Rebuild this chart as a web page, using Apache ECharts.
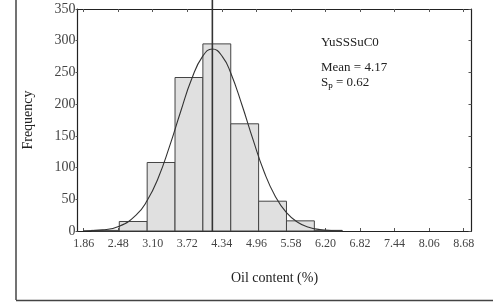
<!DOCTYPE html>
<html><head><meta charset="utf-8">
<script src="https://cdn.jsdelivr.net/npm/echarts@6/dist/echarts.min.js"></script>
<style>html,body{margin:0;padding:0;background:#fff}#c{width:493px;height:302px}</style>
</head><body><div id="c"></div>
<script>
// Histogram bins (oil content %) and frequencies
const binStarts = [2.0, 2.5, 3.0, 3.5, 4.0, 4.5, 5.0, 5.5, 6.0];
const binEnds   = [2.5, 3.0, 3.5, 4.0, 4.5, 5.0, 5.5, 6.0, 6.5];
const counts    = [1, 15, 108, 242, 295, 169, 47, 16, 1];
// Fitted normal curve
const curveX = [1.86, 2.2, 2.5, 2.8, 3.0, 3.2, 3.4, 3.6, 3.8, 4.0, 4.17, 4.35, 4.5, 4.7, 4.9, 5.1, 5.3, 5.5, 5.7, 5.9, 6.1, 6.3, 6.5];
const curveY = [0.3, 1.8, 7.6, 25, 48, 84, 133, 188, 240, 276, 287, 275, 249, 199, 144, 93, 54.5, 28.8, 13.7, 5.9, 2.3, 0.8, 0.25];
const meanValue = 4.17;
const meanLineTop = 365;
const xTickLabels = ['1.86','2.48','3.10','3.72','4.34','4.96','5.58','6.20','6.82','7.44','8.06','8.68'];
const yTicks = [0, 50, 100, 150, 200, 250, 300, 350];
const sampleName = 'YuSSSuC0';
const meanText = 'Mean = 4.17';
const spText = '0.62';

const xTickValues = xTickLabels.map(Number);
const font = 'Liberation Serif';
const txt = '#444';
const chart = echarts.init(document.getElementById('c'));
const barData = counts.map((c, i) => [binStarts[i], binEnds[i], c]);
chart.setOption({
  animation: false,
  backgroundColor: '#fff',
  grid: {left: 77.5, right: 21.5, top: 9, bottom: 71},
  xAxis: [{
    type: 'value', min: 1.75, max: 8.82, position: 'bottom',
    axisLine: {show: true, onZero: false, lineStyle: {color: '#222', width: 1.2}},
    axisTick: {show: true, inside: true, length: 3, customValues: xTickValues, lineStyle: {color: '#555'}},
    axisLabel: {customValues: xTickValues, formatter: v => v.toFixed(2), color: txt, fontFamily: font, fontSize: 12, margin: 7},
    splitLine: {show: false},
    name: 'Oil content (%)', nameLocation: 'middle', nameGap: 40,
    nameTextStyle: {color: '#222', fontFamily: font, fontSize: 14}
  }, {
    type: 'value', min: 1.75, max: 8.82, position: 'top',
    axisLine: {show: true, onZero: false, lineStyle: {color: '#222', width: 1.2}},
    axisTick: {show: true, inside: true, length: 3, customValues: xTickValues, lineStyle: {color: '#555'}},
    axisLabel: {show: false}, splitLine: {show: false}
  }],
  yAxis: [{
    type: 'value', min: 0, max: 350, interval: 50, position: 'left',
    axisLine: {show: true, onZero: false, lineStyle: {color: '#222', width: 1.2}},
    axisTick: {show: true, length: 2, lineStyle: {color: '#555'}},
    axisLabel: {color: txt, fontFamily: font, fontSize: 14, margin: 2},
    splitLine: {show: false},
    name: 'Frequency', nameLocation: 'middle', nameGap: 42, nameRotate: 90,
    nameTextStyle: {color: '#222', fontFamily: font, fontSize: 14}
  }, {
    type: 'value', min: 0, max: 350, interval: 50, position: 'right',
    axisLine: {show: true, onZero: false, lineStyle: {color: '#222', width: 1.2}},
    axisTick: {show: true, inside: true, length: 3, lineStyle: {color: '#555'}},
    axisLabel: {show: false}, splitLine: {show: false}
  }],
  series: [{
    type: 'custom',
    data: barData,
    renderItem: (params, api) => {
      const p0 = api.coord([api.value(0), api.value(2)]);
      const p1 = api.coord([api.value(1), 0]);
      return {type: 'rect', shape: {x: p0[0], y: p0[1], width: p1[0] - p0[0], height: p1[1] - p0[1]},
        style: {fill: '#e0e0e0', stroke: '#444', lineWidth: 1}};
    },
    encode: {x: [0, 1], y: 2}
  }, {
    type: 'line', smooth: true, symbol: 'none',
    data: curveX.map((x, i) => [x, curveY[i]]),
    lineStyle: {color: '#333', width: 1.1}, z: 3
  }, {
    type: 'line', symbol: 'none', clip: false,
    data: [[meanValue, 0], [meanValue, meanLineTop]],
    lineStyle: {color: '#333', width: 1.6}, z: 4
  }],
  graphic: [
    {type: 'line', shape: {x1: 16, y1: 0, x2: 16, y2: 300}, style: {stroke: '#444', lineWidth: 1.5}},
    {type: 'line', shape: {x1: 16, y1: 300.5, x2: 493, y2: 300.5}, style: {stroke: '#444', lineWidth: 1.5}},
    {type: 'text', left: 321, top: 36, style: {text: sampleName, font: '13px "Liberation Serif"', fill: '#222'}},
    {type: 'text', left: 321, top: 61, style: {text: meanText, font: '13px "Liberation Serif"', fill: '#222'}},
    {type: 'text', left: 321, top: 76, style: {text: '{a|S}{b|p}{a| = ' + spText + '}',
      rich: {a: {fontFamily: font, fontSize: 13, fill: '#222', color: '#222'}, b: {fontFamily: font, fontSize: 9, color: '#222', padding: [7, 0, 0, 0]}}}}
  ]
});
</script></body></html>
